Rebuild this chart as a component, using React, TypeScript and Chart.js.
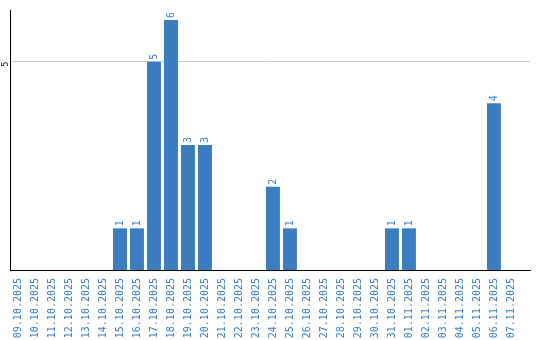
import { useEffect, useRef } from 'react';
import { Chart, registerables } from 'chart.js';

Chart.register(...registerables);

const categories = [
  '09.10.2025', '10.10.2025', '11.10.2025', '12.10.2025', '13.10.2025', '14.10.2025',
  '15.10.2025', '16.10.2025', '17.10.2025', '18.10.2025', '19.10.2025', '20.10.2025',
  '21.10.2025', '22.10.2025', '23.10.2025', '24.10.2025', '25.10.2025', '26.10.2025',
  '27.10.2025', '28.10.2025', '29.10.2025', '30.10.2025', '31.10.2025', '01.11.2025',
  '02.11.2025', '03.11.2025', '04.11.2025', '05.11.2025', '06.11.2025', '07.11.2025',
];
const counts = [0, 0, 0, 0, 0, 0, 1, 1, 5, 6, 3, 3, 0, 0, 0, 2, 1, 0, 0, 0, 0, 0, 1, 1, 0, 0, 0, 0, 4, 0];
const yTicks = [5];
const yMax = 6.24;
const xMin = -0.47;
const xMax = 30.12;

const BLUE = '#3b7dc1';

const barLabels = {
  id: 'barLabels',
  afterDatasetsDraw(chart: any) {
    const ctx = chart.ctx;
    const meta = chart.getDatasetMeta(0);
    ctx.save();
    ctx.font = '10px "DejaVu Sans Mono"';
    ctx.fillStyle = BLUE;
    ctx.textAlign = 'left';
    ctx.textBaseline = 'middle';
    meta.data.forEach((bar: any, i: number) => {
      const v = counts[i];
      if (!v) return;
      ctx.save();
      ctx.translate(bar.x, bar.y - 2);
      ctx.rotate(-Math.PI / 2);
      ctx.fillText(String(v), 0, 0);
      ctx.restore();
    });
    ctx.restore();
  },
};

export default function App() {
  const ref = useRef<HTMLCanvasElement>(null);
  useEffect(() => {
    if (!ref.current) return;
    const chart = new Chart(ref.current, {
      type: 'bar',
      data: {
        datasets: [
          {
            data: counts.map((v, i) => ({ x: i, y: v })),
            backgroundColor: BLUE,
            borderWidth: 0,
            categoryPercentage: 1,
            barPercentage: 0.82,
          },
        ],
      },
      options: {
        animation: false,
        responsive: false,
        maintainAspectRatio: false,
        layout: { padding: { top: 10, right: 10, left: 0, bottom: 0 } },
        plugins: { legend: { display: false }, tooltip: { enabled: false } },
        scales: {
          x: {
            type: 'linear',
            min: xMin,
            max: xMax,
            offset: false,
            afterFit: (s: any) => { s.height = 70; },
            afterBuildTicks: (s: any) => { s.ticks = categories.map((_, i) => ({ value: i })); },
            grid: { display: false, drawTicks: false, offset: false },
            border: { display: true, color: '#000', width: 1 },
            ticks: {
              autoSkip: false,
              minRotation: 90,
              maxRotation: 90,
              padding: 8,
              color: BLUE,
              font: { family: '"DejaVu Sans Mono"', size: 10 },
              callback: (v: any) => categories[v as number] ?? '',
            },
          },
          y: {
            min: 0,
            max: yMax,
            afterFit: (s: any) => { s.width = 10; },
            afterBuildTicks: (s: any) => { s.ticks = yTicks.map((v) => ({ value: v })); },
            grid: { color: '#cccccc', drawTicks: false },
            border: { display: true, color: '#000', width: 1 },
            ticks: {
              minRotation: 90,
              maxRotation: 90,
              padding: 4,
              color: '#000',
              font: { family: '"DejaVu Sans Mono"', size: 8 },
            },
          },
        },
      },
      plugins: [barLabels],
    });
    return () => chart.destroy();
  }, []);
  return (
    <div style={{ position: 'fixed', left: 0, top: 0, width: 540, height: 340, background: '#fff' }}>
      <canvas ref={ref} width={540} height={340} style={{ width: 540, height: 340 }} />
    </div>
  );
}
